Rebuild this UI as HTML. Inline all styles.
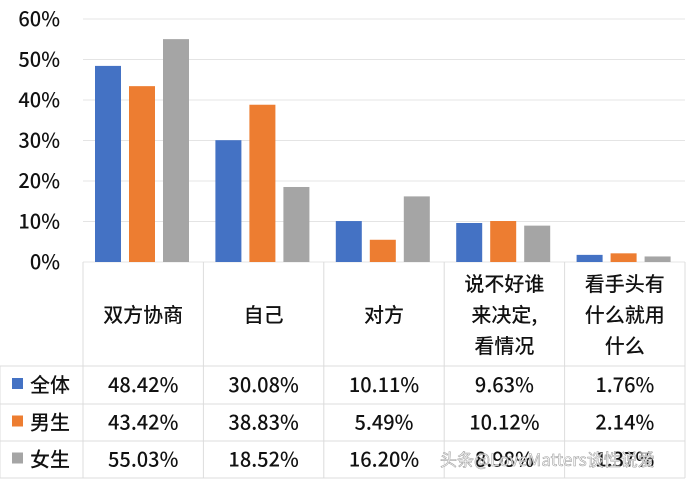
<!DOCTYPE html>
<html><head><meta charset="utf-8"><style>
body{margin:0;background:#fff;}
svg text{font-family:"Noto Sans CJK SC","Liberation Sans",sans-serif;}
</style></head><body>
<svg id="chart" width="692" height="482" xmlns="http://www.w3.org/2000/svg"></svg>
<script>
const categories=[["双方协商"],["自己"],["对方"],["说不好谁","来决定,","看情况"],["看手头有","什么就用","什么"]];
const seriesNames=["全体","男生","女生"];
const allValues=[48.42,30.08,10.11,9.63,1.76];
const maleValues=[43.42,38.83,5.49,10.12,2.14];
const femaleValues=[55.03,18.52,16.20,8.98,1.37];
const yTicks=[0,10,20,30,40,50,60];
const colors=["#4472C4","#ED7D31","#A5A5A5"];
const series=[allValues,maleValues,femaleValues];
const svg=document.getElementById('chart');
const NS="http://www.w3.org/2000/svg";
const x0=83,x1=685,y0=262,yTop=19;
const cw=(x1-x0)/categories.length;
const y=v=>y0-(v/60)*(y0-yTop);
function mk(t,a){const e=document.createElementNS(NS,t);for(const k in a)e.setAttribute(k,a[k]);svg.appendChild(e);return e;}
yTicks.forEach(t=>{
 const l=mk('line',{x1:x0,x2:x1,y1:y(t),y2:y(t),stroke:'#e4e4e4','stroke-width':1});
 
 
 const tx=mk('text',{x:60,y:y(t)+7,'text-anchor':'end','font-size':20,'font-weight':500,fill:'#111'});
 tx.textContent=t+'%';
 
 
});
series.forEach((vals,s)=>{
 vals.forEach((v,i)=>{
  const b=mk('rect',{x:x0+i*cw+12+s*34,y:y(v),width:26,height:y0-y(v),fill:colors[s]});
  
  
 });
});
const rowY=[262,366,404,441,478];
const tg='#dcdcdc';
for(let i=0;i<=categories.length;i++){
 const l=mk('line',{x1:x0+i*cw,x2:x0+i*cw,y1:262,y2:478,stroke:tg});
 
 
}
rowY.slice(1).forEach(r=>{
 const l=mk('line',{x1:0,x2:x1,y1:r,y2:r,stroke:tg});
 
 
});
const l0=mk('line',{x1:0,x2:0,y1:366,y2:478,stroke:tg});


categories.forEach((lines,i)=>{
 const cx=x0+i*cw+cw/2;
 const start=315-(lines.length-1)*31/2;
 lines.forEach((ln,j)=>{
  const t=mk('text',{x:cx,y:start+j*31+7,'text-anchor':'middle','font-size':20,'font-weight':500,fill:'#111'});
  t.textContent=ln;
  
  
 });
});
series.forEach((vals,s)=>{
 const cy=(rowY[s+1]+rowY[s+2])/2;
 const sw=mk('rect',{x:12,y:cy-7,width:11,height:11,fill:colors[s]});
 
 
 const n=mk('text',{x:30,y:cy+7,'font-size':20,'font-weight':500,fill:'#111'});
 n.textContent=seriesNames[s];
 
 
 vals.forEach((v,i)=>{
  const t=mk('text',{x:x0+i*cw+cw/2,y:cy+7,'text-anchor':'middle','font-size':20,'font-weight':500,fill:'#111'});
  t.textContent=v.toFixed(2)+'%';
  
  
 });
});
const w=mk('text',{x:440,y:466,'font-size':17,fill:'#ffffff',stroke:'#999','stroke-width':0.6,opacity:0.9});
w.textContent='头条@LoveMatters谈性说爱';


</script>
</body></html>
